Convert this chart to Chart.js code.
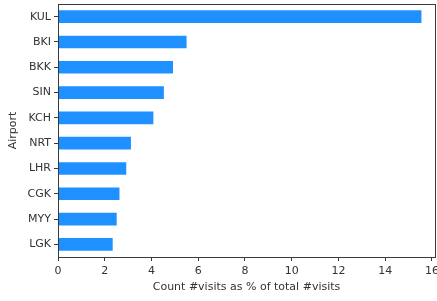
<!DOCTYPE html>
<html>
<head>
<meta charset="utf-8">
<script src="https://cdn.jsdelivr.net/npm/chart.js@4.4.1/dist/chart.umd.min.js"></script>
<style>
  html, body { margin: 0; padding: 0; background: #ffffff; }
  #wrap { width: 437px; height: 301px; }
</style>
</head>
<body>
<div id="wrap"><canvas id="c" width="437" height="301"></canvas></div>
<script>
const categories = ['KUL', 'BKI', 'BKK', 'SIN', 'KCH', 'NRT', 'LHR', 'CGK', 'MYY', 'LGK'];
const visitShare = [15.55, 5.5, 4.92, 4.53, 4.08, 3.12, 2.92, 2.63, 2.51, 2.34];
const xTickValues = [0, 2, 4, 6, 8, 10, 12, 14, 16];
const xAxisTitle = 'Count #visits as % of total #visits';
const yAxisTitle = 'Airport';

const TEXT = '#333333';
const AXIS = '#3a3a3a';
const FONT = { family: 'DejaVu Sans', size: 11 };

const framePlugin = {
  id: 'frame',
  afterDraw(chart) {
    const { ctx, chartArea: a } = chart;
    ctx.save();
    ctx.strokeStyle = AXIS;
    ctx.lineWidth = 1;
    ctx.strokeRect(Math.round(a.left) + 0.5, Math.round(a.top) + 0.5,
                   Math.round(a.right - a.left), Math.round(a.bottom - a.top));
    ctx.restore();
  }
};

new Chart(document.getElementById('c'), {
  type: 'bar',
  data: {
    labels: categories,
    datasets: [{
      data: visitShare,
      backgroundColor: '#1E90FF',
      borderWidth: 0,
      barPercentage: 0.5,
      categoryPercentage: 1.0
    }]
  },
  options: {
    indexAxis: 'y',
    responsive: false,
    animation: false,
    devicePixelRatio: 1,
    layout: { padding: { left: 0, right: 2, top: 4, bottom: 0 } },
    plugins: { legend: { display: false }, tooltip: { enabled: false } },
    scales: {
      x: {
        type: 'linear',
        min: 0,
        max: 16.13,
        afterBuildTicks(scale) { scale.ticks = xTickValues.map(v => ({ value: v })); },
        afterFit(scale) { scale.height = 44; scale.paddingLeft = 0; scale.paddingRight = 0; },
        ticks: { color: TEXT, font: FONT, padding: 4, maxRotation: 0, autoSkip: false, includeBounds: false },
        grid: { display: true, drawOnChartArea: false, drawTicks: true, tickLength: 4, color: AXIS, lineWidth: 1 },
        border: { display: true, color: AXIS, width: 1 },
        title: { display: true, text: xAxisTitle, color: TEXT, font: FONT, padding: { top: 0, bottom: 7 } }
      },
      y: {
        type: 'category',
        offset: true,
        afterFit(scale) { scale.width = 58; scale.paddingTop = 0; scale.paddingBottom = 0; },
        ticks: { color: TEXT, font: FONT, padding: 3, autoSkip: false },
        grid: { display: true, offset: false, drawOnChartArea: false, drawTicks: true, tickLength: 4, color: AXIS, lineWidth: 1 },
        border: { display: true, color: AXIS, width: 1 },
        title: { display: true, text: yAxisTitle, color: TEXT, font: FONT, padding: { top: 7, bottom: 0 } }
      }
    }
  },
  plugins: [framePlugin]
});
</script>
</body>
</html>
